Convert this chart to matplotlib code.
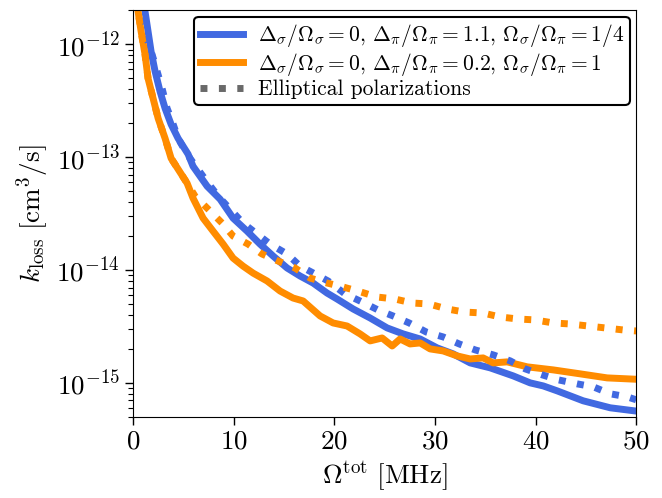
import numpy as np
import matplotlib
matplotlib.use("Agg")
import matplotlib.pyplot as plt

plt.rcParams['font.family'] = 'serif'
plt.rcParams['font.serif'] = ['cmr10']
plt.rcParams['mathtext.fontset'] = 'cm'
plt.rcParams['axes.formatter.use_mathtext'] = True

# blue, solid: D_pi/O_pi = 1.1, O_s/O_pi = 1/4
x_blue = [0.8, 1.19, 1.49, 1.79, 2.19, 2.68, 3.18, 3.78, 4.47, 5.47, 5.96, 7.36, 8.65, 9.94,
          11.33, 12.62, 13.92, 15.31, 16.60, 17.89, 19.28, 20.28, 21.87, 23.56, 25.25, 26.84,
          28.53, 30.22, 31.81, 33.50, 35.49, 37.77, 39.46, 40.76, 42.15, 44.73, 47.42, 50.0]
k_blue = [-11.45, -11.708, -11.885, -12.062, -12.239, -12.416, -12.566, -12.708, -12.832, -12.973,
          -13.080, -13.257, -13.372, -13.540, -13.655, -13.770, -13.876, -13.982, -14.053, -14.115,
          -14.204, -14.257, -14.345, -14.425, -14.513, -14.566, -14.611, -14.690, -14.743, -14.823,
          -14.867, -14.938, -15.000, -15.027, -15.071, -15.159, -15.221, -15.250]

# orange, solid: D_pi/O_pi = 0.2, O_s/O_pi = 1
x_orange = [0.3, 0.50, 0.80, 1.19, 1.49, 1.99, 2.49, 3.18, 3.78, 5.37, 5.96, 6.96, 7.95, 8.95,
            9.94, 10.93, 11.93, 13.32, 14.61, 15.90, 16.90, 18.59, 19.88, 21.27, 22.56, 23.56,
            24.75, 25.75, 26.54, 27.53, 28.53, 29.52, 30.82, 32.21, 33.50, 34.79, 35.79, 37.18,
            39.17, 41.75, 44.43, 47.12, 50.0]
k_orange = [-11.55, -11.708, -11.885, -12.088, -12.301, -12.478, -12.655, -12.832, -13.009, -13.230,
            -13.363, -13.540, -13.655, -13.770, -13.894, -13.965, -14.027, -14.097, -14.186,
            -14.248, -14.274, -14.407, -14.469, -14.496, -14.566, -14.628, -14.602, -14.673,
            -14.611, -14.655, -14.646, -14.699, -14.717, -14.761, -14.788, -14.779, -14.823,
            -14.814, -14.858, -14.885, -14.920, -14.956, -14.968]

# elliptical polarizations (dotted)
x_blue_ell = [0.9, 1.29, 1.49, 2.19, 2.88, 3.38, 3.88, 4.47, 5.37, 6.36, 7.46, 8.45, 9.64, 10.93,
              12.33, 13.62, 15.31, 16.60, 18.09, 19.38, 21.07, 22.76, 24.35, 25.84, 27.44, 29.13,
              30.82, 32.41, 34.00, 35.79, 37.48, 38.97, 40.66, 42.25, 44.14, 45.73, 47.42, 49.11, 50.0]
k_blue_ell = [-11.55, -11.841, -11.973, -12.177, -12.389, -12.566, -12.681, -12.832, -12.973,
              -13.097, -13.230, -13.345, -13.460, -13.584, -13.681, -13.770, -13.858, -13.965,
              -14.035, -14.097, -14.212, -14.283, -14.354, -14.407, -14.469, -14.549, -14.593,
              -14.655, -14.708, -14.752, -14.805, -14.876, -14.929, -14.973, -15.009, -15.035,
              -15.097, -15.124, -15.150]

x_orange_ell = [0.3, 0.50, 0.80, 1.19, 1.49, 1.99, 2.49, 3.18, 3.78, 5.37, 6.16, 7.46, 8.85, 9.94,
                11.43, 12.82, 14.41, 16.10, 17.59, 19.28, 20.87, 22.66, 24.25, 26.04, 27.73, 29.42,
                31.21, 32.90, 34.79, 36.48, 38.27, 39.96, 41.75, 43.44, 45.23, 46.92, 48.71, 50.0]
k_orange_ell = [-11.55, -11.708, -11.885, -12.088, -12.301, -12.478, -12.655, -12.832, -13.009,
                -13.230, -13.345, -13.460, -13.584, -13.699, -13.770, -13.858, -13.920, -13.982,
                -14.071, -14.115, -14.150, -14.195, -14.239, -14.257, -14.292, -14.301, -14.345,
                -14.372, -14.381, -14.416, -14.434, -14.442, -14.469, -14.478, -14.496, -14.513,
                -14.531, -14.540]

blue = '#4169e1'
orange = '#ff8c00'

fig = plt.figure(figsize=(6.62, 4.98), dpi=100)
ax = fig.add_axes([0.201, 0.163, 0.760, 0.816])

ax.plot(x_blue, 10.0 ** np.array(k_blue), color=blue, lw=5,
        label=r'$\Delta_\sigma/\Omega_\sigma=0,\, \Delta_\pi/\Omega_\pi=1.1,\, \Omega_\sigma/\Omega_\pi=1/4$')
ax.plot(x_orange, 10.0 ** np.array(k_orange), color=orange, lw=5,
        label=r'$\Delta_\sigma/\Omega_\sigma=0,\, \Delta_\pi/\Omega_\pi=0.2,\, \Omega_\sigma/\Omega_\pi=1$')
ax.plot(x_blue_ell, 10.0 ** np.array(k_blue_ell), color=blue, lw=5, ls=':')
ax.plot(x_orange_ell, 10.0 ** np.array(k_orange_ell), color=orange, lw=5, ls=':')
ax.plot([], [], color='dimgray', lw=5, ls=':', label='Elliptical polarizations')

ax.set_yscale('log')
ax.set_xlim(0, 50)
ax.set_ylim(5e-16, 2e-12)
ax.set_xticks([0, 10, 20, 30, 40, 50])
ax.tick_params(labelsize=19.5, direction='out', length=6, width=1)
ax.tick_params(which='minor', length=3.5, width=0.8)
ax.set_xlabel(r'$\Omega^{\rm tot}\ [{\rm MHz}]$', fontsize=19.5)
ax.set_ylabel(r'$k_{\rm loss}\ [{\rm cm}^3/{\rm s}]$', fontsize=19.5)

leg = ax.legend(loc='upper right', fontsize=15.5, handlelength=2.0, framealpha=1,
                edgecolor='black', borderaxespad=0.3, labelspacing=0.08,
                borderpad=0.25, handletextpad=0.7)
leg.get_frame().set_linewidth(1.5)

fig.savefig('out.png', dpi=100)
